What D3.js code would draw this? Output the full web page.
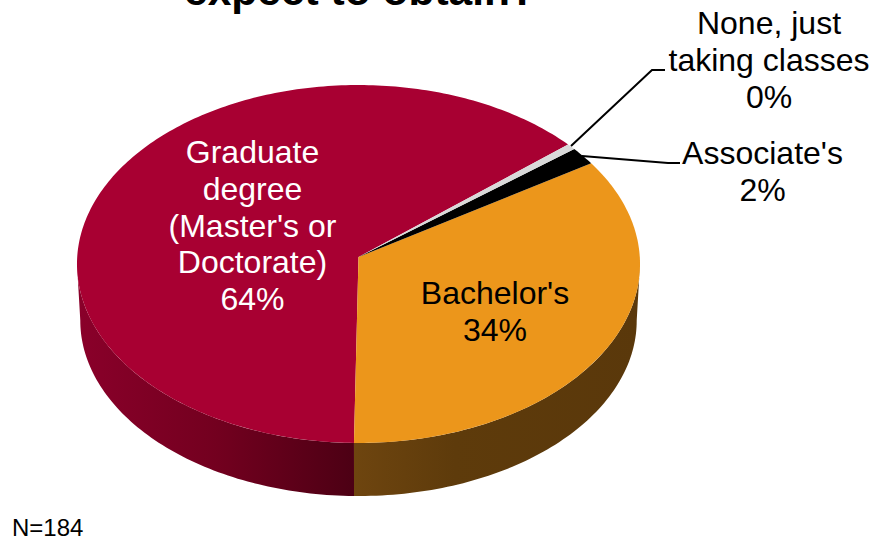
<!DOCTYPE html>
<html><head><meta charset="utf-8">
<script src="https://cdn.jsdelivr.net/npm/d3@7"></script>
<style>html,body{margin:0;padding:0;background:#fff}svg{display:block}text{font-family:"Liberation Sans",Arial,sans-serif}</style>
</head><body><svg id="c" width="877" height="540"></svg>
<script>
const categories = ["None, just taking classes","Associate's","Bachelor's","Graduate degree (Master's or Doctorate)"];
const counts = [1,3,63,117];
const percentLabels = ["0%","2%","34%","64%"];
const topColors = ["#d9d9d9","#000000","#ec961b","#a80032"];
const titleText = "expect to obtain?";
const noteText = "N=184";

const cx=358.5, k=0.0391, toRad=Math.PI/180, startDeg=49.8;
const pie=d3.pie().sort(null).startAngle(startDeg*toRad).endAngle((startDeg+360)*toRad);
const arcs=pie(counts);
// perspective projection of the pie's rim: top rim and the smaller, lower bottom rim
const rim=(r,b,y0)=>a=>{
  const w=1+k*Math.cos(a);
  return [cx+r*Math.sin(a)/w, y0-b*Math.cos(a)/w];
};
const topRim=rim(281.3,178.7,257), botRim=rim(278,175.2,313.7);
const sweep=(a0,a1,n)=>d3.range(0,n+1).map(j=>a0+(a1-a0)*j/n);
const line=d3.line();

const svg=d3.select("#c");
const defs=svg.append("defs");
function grad(id,x1,x2,stops){
  const g=defs.append("linearGradient").attr("id",id).attr("gradientUnits","userSpaceOnUse")
    .attr("x1",x1).attr("x2",x2).attr("y1",0).attr("y2",0);
  stops.forEach(s=>g.append("stop").attr("offset",s[0]).attr("stop-color",s[1]));
}
grad("wallRed",77,355,[[0,"#8a002a"],[0.5,"#73001f"],[1,"#4c0014"]]);
grad("wallOrange",355,640,[[0,"#6e450f"],[0.35,"#5e3b0b"],[1,"#5a380b"]]);
const wallFill=["#000","#000","url(#wallOrange)","url(#wallRed)"];

// side walls: only the visible front part of the rim
const edge=Math.acos(-k);
arcs.forEach((d,i)=>{
  const a0=Math.max(d.startAngle,edge), a1=Math.min(d.endAngle,2*Math.PI-edge);
  if(a1<=a0) return;
  const as=sweep(a0,a1,80);
  svg.append("path").attr("d",line(as.map(topRim).concat(as.slice().reverse().map(botRim)))+"Z").attr("fill",wallFill[i]);
});

// top face
arcs.slice().reverse().forEach((d)=>{
  const pts=sweep(d.startAngle,d.endAngle,Math.max(4,Math.round((d.endAngle-d.startAngle)*60))).map(topRim);
  svg.append("path").attr("d",line([[cx,257]].concat(pts))+"Z").attr("fill",topColors[d.index]);
});

// leader lines
[[[571,146],[652,70],[665,70]],[[582,156],[668,163],[680,163]]].forEach(p=>{
  svg.append("path").attr("d",line(p)).attr("fill","none").attr("stroke","#000").attr("stroke-width",2);
});

function label(lines,x,y0,dy,fill){
  const t=svg.append("text").attr("text-anchor","middle").attr("font-size",32).attr("fill",fill);
  lines.forEach((s,i)=>t.append("tspan").attr("x",x).attr("y",y0+i*dy).text(s));
}
label(["None, just","taking classes",percentLabels[0]],769,34,36.8,"#000");
label(["Associate's",percentLabels[1]],762.5,164,36.8,"#000");
label(["Bachelor's",percentLabels[2]],495,304,36.8,"#000");
label(["Graduate","degree","(Master's or","Doctorate)",percentLabels[3]],252.5,163,36.8,"#fff");

svg.append("text").attr("x",360).attr("y",5).attr("text-anchor","middle").attr("font-size",42.5).attr("font-weight","bold").attr("fill","#000").text(titleText);
svg.append("text").attr("x",12).attr("y",536).attr("font-size",24).attr("fill","#000").text(noteText);
</script></body></html>
